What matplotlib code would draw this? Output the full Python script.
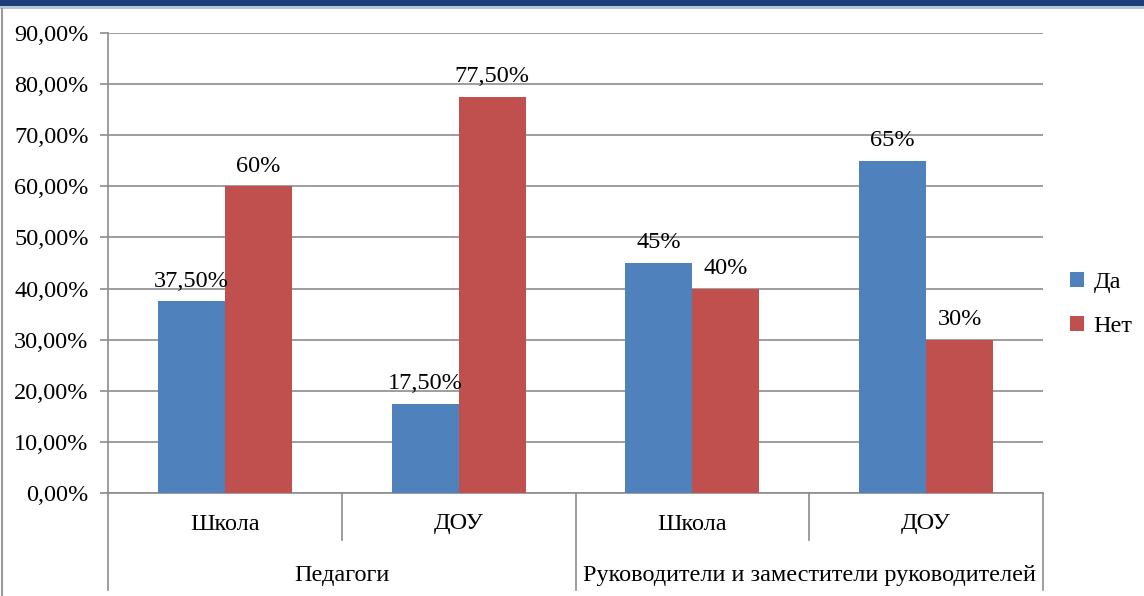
import matplotlib
matplotlib.use("Agg")
import matplotlib.pyplot as plt
from matplotlib.patches import Rectangle

categories = ["Школа", "ДОУ", "Школа", "ДОУ"]
groups = ["Педагоги", "Руководители и заместители руководителей"]
series_names = ["Да", "Нет"]
da_values = [0.375, 0.175, 0.45, 0.65]
net_values = [0.60, 0.775, 0.40, 0.30]
da_labels = ["37,50%", "17,50%", "45%", "65%"]
net_labels = ["60%", "77,50%", "40%", "30%"]
y_ticks = [0.0, 0.1, 0.2, 0.3, 0.4, 0.5, 0.6, 0.7, 0.8, 0.9]
y_tick_labels = ["0,00%", "10,00%", "20,00%", "30,00%", "40,00%", "50,00%",
                 "60,00%", "70,00%", "80,00%", "90,00%"]

plt.rcParams['font.family'] = ['Liberation Serif', 'DejaVu Serif']
BLUE = "#4F81BD"
RED = "#C0504D"
GRID = "#8c8c8c"
FS = 17.5

fig = plt.figure(figsize=(11.44, 5.96), dpi=100)
# top band
fig.patches.append(Rectangle((0, 1 - 6 / 596), 1, 6 / 596, transform=fig.transFigure,
                             facecolor="#1f3d78", edgecolor="none", zorder=0))
fig.patches.append(Rectangle((0, 1 - 9 / 596), 1, 3 / 596, transform=fig.transFigure,
                             facecolor="#b8c4d8", edgecolor="none", zorder=0))
fig.add_artist(plt.Line2D([1.5 / 1144, 1.5 / 1144], [0, 1 - 9 / 596],
                          transform=fig.transFigure, color="#9a9a9a", lw=1.5))

ax = fig.add_axes([108 / 1144, 1 - 493 / 596, (1043 - 108) / 1144, (493 - 33) / 596])
x = list(range(len(categories)))
w = 0.287
ax.bar([i - w / 2 for i in x], da_values, width=w, color=BLUE, label=series_names[0], zorder=3)
ax.bar([i + w / 2 for i in x], net_values, width=w, color=RED, label=series_names[1], zorder=3)

for i in x:
    ax.annotate(da_labels[i], (i - w / 2, da_values[i]), xytext=(0, 7),
                textcoords="offset points", ha="center", va="bottom",
                fontsize=FS, zorder=5)
    ax.annotate(net_labels[i], (i + w / 2, net_values[i]), xytext=(0, 7),
                textcoords="offset points", ha="center", va="bottom",
                fontsize=FS, zorder=5)

ax.set_xlim(-0.5, 3.5)
ax.set_ylim(0, 0.9)
ax.set_yticks(y_ticks)
ax.set_yticklabels(y_tick_labels, fontsize=FS)
ax.tick_params(axis="y", length=6, color=GRID, width=1.2, pad=8)
ax.set_xticks([])
ax.yaxis.grid(True, color=GRID, lw=1.2, zorder=0)
ax.set_axisbelow(True)
for s in ["top", "right"]:
    ax.spines[s].set_visible(False)
ax.spines["left"].set_color(GRID)
ax.spines["bottom"].set_color(GRID)
ax.spines["left"].set_linewidth(1.2)
ax.spines["bottom"].set_linewidth(1.2)

# category axis
tr = ax.get_xaxis_transform()
short_y = -47 / 460
long_y = -97 / 460
ax.plot([-0.5, -0.5], [0, long_y], transform=tr, color=GRID, lw=1.2, clip_on=False)
ax.plot([0.5, 0.5], [0, short_y], transform=tr, color=GRID, lw=1.2, clip_on=False)
ax.plot([1.5, 1.5], [0, long_y], transform=tr, color=GRID, lw=1.2, clip_on=False)
ax.plot([2.5, 2.5], [0, short_y], transform=tr, color=GRID, lw=1.2, clip_on=False)
ax.plot([3.5, 3.5], [0, long_y], transform=tr, color=GRID, lw=1.2, clip_on=False)
for i, c in enumerate(categories):
    ax.text(i, -31 / 460, c, transform=tr, ha="center", va="center", fontsize=FS)
for g, name in enumerate(groups):
    ax.text(0.5 + 2 * g, -82 / 460, name, transform=tr, ha="center", va="center", fontsize=FS)

leg = ax.legend(loc="center left", bbox_to_anchor=(1.006, 0.41), frameon=False,
                fontsize=FS, handlelength=0.55, handleheight=0.55, handletextpad=0.4,
                labelspacing=0.95)

fig.savefig("out.png", dpi=100)
